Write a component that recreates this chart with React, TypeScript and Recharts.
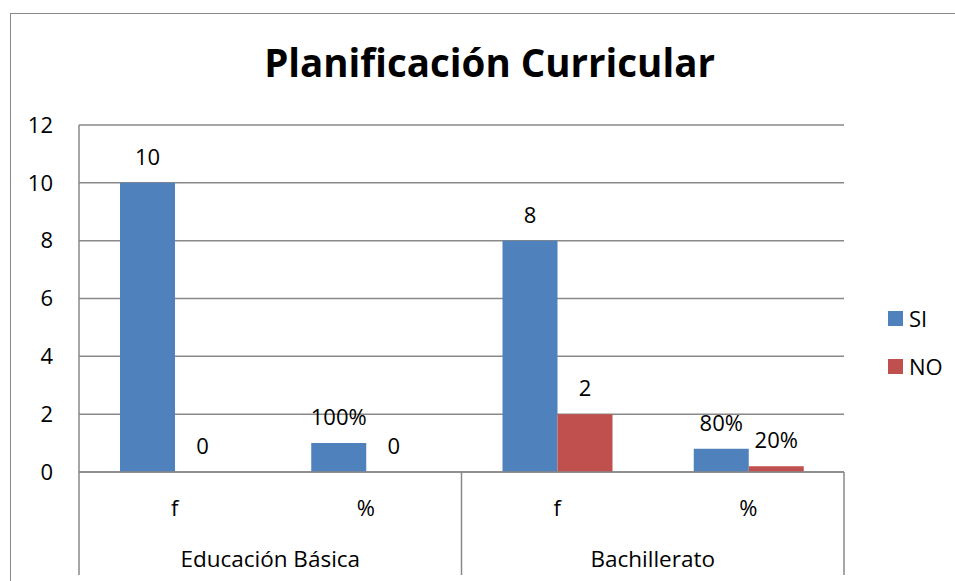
import React from "react";
import { BarChart, Bar, XAxis, YAxis, CartesianGrid, Legend, LabelList } from "recharts";

const categories = ["f", "%", "f", "%"];
const groups = ["Educación Básica", "Educación Básica", "Bachillerato", "Bachillerato"];
const siValues = [10, 1, 8, 0.8];
const noValues = [0, 0, 2, 0.2];
const siLabels = ["10", "100%", "8", "80%"];
const noLabels = ["0", "0", "2", "20%"];
const yTicks = [0, 2, 4, 6, 8, 10, 12];
const seriesNames = ["SI", "NO"];
const seriesColors = ["#4F81BD", "#C0504D"];
const title = "Planificación Curricular";

const data = categories.map((c, i) => ({
  cat: c,
  group: groups[i],
  si: siValues[i],
  no: noValues[i],
  siLabel: siLabels[i],
  noLabel: noLabels[i],
}));

const FONT = "'Open Sans', 'DejaVu Sans', sans-serif";
const GRID = "#898989";

const CatTick = (props: any) => {
  const { x, y, payload, index, width, visibleTicksCount } = props;
  const n = visibleTicksCount || 4;
  const band = width && n ? width / n : 191.25;
  const y0 = y - 28;
  const lines: number[] = [];
  if (index === 0 || index === 2) lines.push(x - band / 2);
  if (index === n - 1) lines.push(x + band / 2);
  return (
    <g>
      {lines.map((lx, k) => (
        <line key={k} x1={lx} x2={lx} y1={y0} y2={y0 + 103} stroke={GRID} strokeWidth={1.5} />
      ))}
      <text x={x} y={y + 15.5} textAnchor="middle" fontSize={22} fontFamily={FONT} fill="#000">
        {payload.value}
      </text>
    </g>
  );
};

const LegendContent = () => (
  <div style={{ fontFamily: FONT, fontSize: 22, color: "#000" }}>
    {seriesNames.map((name, i) => (
      <div key={name} style={{ display: "flex", alignItems: "center", height: 48 }}>
        <span style={{ display: "inline-block", width: 15, height: 15, background: seriesColors[i], marginRight: 6 }} />
        <span style={{ lineHeight: "22px" }}>{name}</span>
      </div>
    ))}
  </div>
);

export default function App() {
  return (
    <div style={{ position: "absolute", left: 0, top: 0, width: 955, height: 581, background: "#fff", overflow: "hidden" }}>
      <div
        style={{
          position: "absolute",
          left: 10,
          top: 13,
          width: 960,
          height: 600,
          borderLeft: `1.5px solid ${GRID}`,
          borderTop: `1.5px solid ${GRID}`,
          boxSizing: "border-box",
        }}
      />
      <BarChart
        width={955}
        height={581}
        data={data}
        margin={{ top: 125, right: 111, left: 20, bottom: 9 }}
        barSize={55}
        barGap={0}
        style={{ position: "absolute", left: 0, top: 0 }}
      >
        <text x={489.5} y={77} textAnchor="middle" fontSize={38.5} fontWeight={700} fontFamily={FONT} fill="#000">
          {title}
        </text>
        <CartesianGrid vertical={false} stroke={GRID} strokeWidth={1.5} />
        <XAxis
          dataKey="cat"
          height={60}
          axisLine={{ stroke: GRID, strokeWidth: 1.5 }}
          tickLine={false}
          tickSize={0}
          tickMargin={28}
          tick={<CatTick />}
          interval={0}
        />
        <XAxis
          xAxisId="grp"
          dataKey="group"
          allowDuplicatedCategory={false}
          height={40}
          axisLine={false}
          tickLine={false}
          tickSize={0}
          tickMargin={19}
          tick={{ fontSize: 22.5, fontFamily: FONT, fill: "#000" }}
          interval={0}
        />
        <YAxis
          width={59}
          domain={[0, 12]}
          ticks={yTicks}
          axisLine={{ stroke: GRID, strokeWidth: 1.5 }}
          tickLine={false}
          tickSize={0}
          tickMargin={26}
          tick={{ fontSize: 22, fontFamily: FONT, fill: "#000" }}
          interval={0}
        />
        <Legend
          layout="horizontal"
          verticalAlign="middle"
          align="center"
          wrapperStyle={{ left: 888, top: 294, width: 70 }}
          content={<LegendContent />}
        />
        <Bar dataKey="si" name={seriesNames[0]} fill={seriesColors[0]} isAnimationActive={false}>
          <LabelList dataKey="siLabel" position="top" offset={18} fontSize={22} fontFamily={FONT} fill="#000" />
        </Bar>
        <Bar dataKey="no" name={seriesNames[1]} fill={seriesColors[1]} minPointSize={0.01} isAnimationActive={false}>
          <LabelList dataKey="noLabel" position="top" offset={18} fontSize={22} fontFamily={FONT} fill="#000" />
        </Bar>
      </BarChart>
    </div>
  );
}
